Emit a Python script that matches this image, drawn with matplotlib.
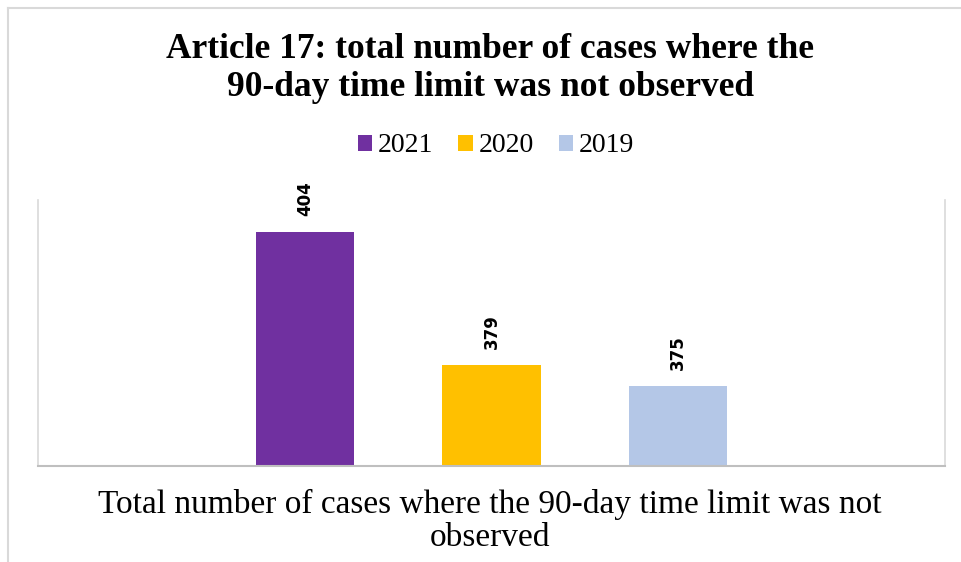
import matplotlib
matplotlib.use("Agg")
import matplotlib.pyplot as plt
from matplotlib.lines import Line2D
from matplotlib.patches import Patch

title = "Article 17: total number of cases where the\n90-day time limit was not observed"
category_label = "Total number of cases where the 90-day time limit was not\nobserved"
years = ["2021", "2020", "2019"]
values = [404, 379, 375]
colors = ["#7030A0", "#FFC000", "#B4C7E7"]

W, H = 961, 562
fig = plt.figure(figsize=(W / 100, H / 100), dpi=100)
fig.patch.set_facecolor("white")

# outer frame
fig.add_artist(Line2D([8 / W, 8 / W], [0, 1 - 8 / H], transform=fig.transFigure, color="#d9d9d9", lw=1.5))
fig.add_artist(Line2D([8 / W, 1], [1 - 8 / H, 1 - 8 / H], transform=fig.transFigure, color="#d9d9d9", lw=1.5))

left, right, top, bottom = 38, 945, 200, 466
ax = fig.add_axes([left / W, 1 - bottom / H, (right - left) / W, (bottom - top) / H])

x = list(range(len(values)))
bars = ax.bar(x, values, width=0.526, color=colors, bottom=0)
ax.set_ylim(360, 410)
ax.set_xlim(-1.43, 3.43)
ax.set_yticks([])
ax.set_xticks([])
ax.spines["top"].set_visible(False)
for s in ["left", "right"]:
    ax.spines[s].set_color("#d9d9d9")
    ax.spines[s].set_linewidth(1.2)
ax.spines["bottom"].set_color("#bfbfbf")
ax.spines["bottom"].set_linewidth(1.5)

ax.bar_label(bars, labels=[str(v) for v in values], rotation=90, padding=11.5,
             fontsize=12, fontweight="bold", family="DejaVu Sans", color="black")

fig.text(490 / W, 1 - 69 / H, title, ha="center", va="center", family="Liberation Serif",
         fontweight="bold", fontsize=25.5, linespacing=1.2)

handles = [Patch(facecolor=c, edgecolor="none") for c in colors]
fig.legend(handles, years, loc="center", bbox_to_anchor=(496 / W, 1 - 146 / H), ncol=3,
           frameon=False, prop={"family": "Liberation Serif", "size": 20},
           handlelength=0.53, handleheight=0.5, handletextpad=0.2, columnspacing=0.9,
           borderpad=0, borderaxespad=0)

fig.text(490 / W, 1 - 521 / H, category_label, ha="center", va="center", family="Liberation Serif",
         fontsize=24, linespacing=1.13)

fig.savefig("out.png", dpi=100)
